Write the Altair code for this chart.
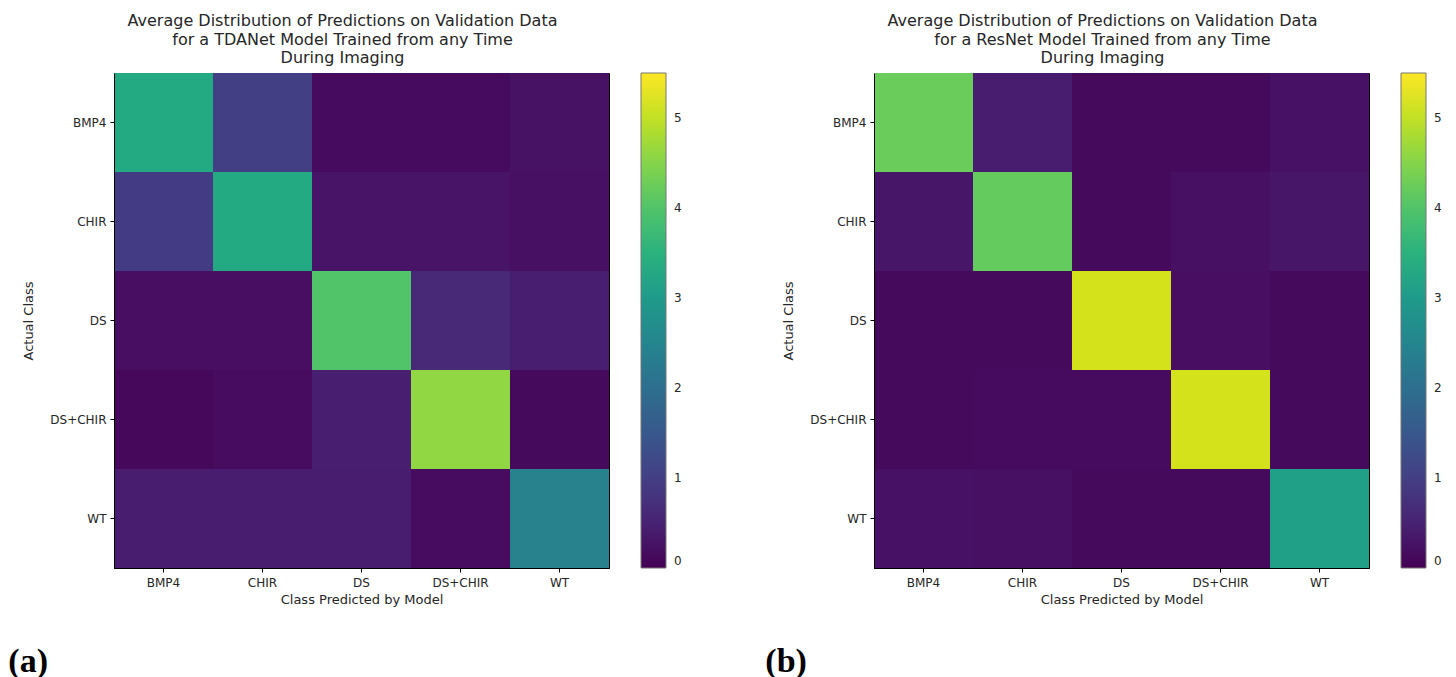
import altair as alt
import pandas as pd

classes = ["BMP4", "CHIR", "DS", "DS+CHIR", "WT"]

# rows = actual class, columns = predicted class
tdanet_values = [
    [3.35, 1.00, 0.14, 0.14, 0.24],
    [0.95, 3.35, 0.28, 0.28, 0.22],
    [0.18, 0.18, 4.00, 0.62, 0.45],
    [0.10, 0.16, 0.45, 4.60, 0.12],
    [0.42, 0.42, 0.40, 0.16, 2.40],
]
resnet_values = [
    [4.25, 0.40, 0.12, 0.12, 0.25],
    [0.30, 4.20, 0.12, 0.22, 0.30],
    [0.12, 0.12, 5.15, 0.18, 0.12],
    [0.12, 0.14, 0.14, 5.15, 0.12],
    [0.25, 0.22, 0.12, 0.12, 3.15],
]
color_ticks = [0, 1, 2, 3, 4, 5]
color_max = 5.5

title_a = ["Average Distribution of Predictions on Validation Data",
           "for a TDANet Model Trained from any Time",
           "During Imaging"]
title_b = ["Average Distribution of Predictions on Validation Data",
           "for a ResNet Model Trained from any Time",
           "During Imaging"]


def to_df(matrix):
    rows = []
    for i, actual in enumerate(classes):
        for j, pred in enumerate(classes):
            rows.append({"actual": actual, "predicted": pred, "value": matrix[i][j]})
    return pd.DataFrame(rows)


TEXT = "#262626"


def heatmap(matrix, title_lines):
    cscale = alt.Scale(scheme="viridis", domain=[0, color_max], nice=False, zero=True)
    return alt.Chart(to_df(matrix)).mark_rect().encode(
        x=alt.X("predicted:N", sort=classes, title="Class Predicted by Model",
                scale=alt.Scale(paddingInner=0, paddingOuter=0),
                axis=alt.Axis(labelAngle=0, labelPadding=5, titlePadding=5)),
        y=alt.Y("actual:N", sort=classes, title="Actual Class",
                scale=alt.Scale(paddingInner=0, paddingOuter=0),
                axis=alt.Axis(labelPadding=4, titlePadding=14)),
        color=alt.Color("value:Q", scale=cscale,
                        legend=alt.Legend(title=None, type="gradient", direction="vertical",
                                          gradientLength=495, gradientThickness=25,
                                          values=color_ticks, format="d", offset=32,
                                          gradientStrokeColor="#777", gradientStrokeWidth=1,
                                          labelFontSize=12, labelOffset=8, labelColor=TEXT,
                                          labelFont="DejaVu Sans")),
    ).properties(
        width=495, height=495,
        title=alt.TitleParams(text=title_lines, fontSize=16, fontWeight="normal",
                              font="DejaVu Sans", anchor="middle", frame="group",
                              dx=-19, offset=7, lineHeight=18.5, color=TEXT),
    )


def labelled(chart, label, dx):
    return alt.vconcat(chart).properties(
        title=alt.TitleParams(text=label, orient="bottom", anchor="start",
                              font="Liberation Serif", fontSize=34, fontWeight="bold",
                              color="black", dx=dx, offset=38)
    ).resolve_scale(color="independent")


panel_a = labelled(heatmap(tdanet_values, title_a), "(a)", -14)
panel_b = labelled(heatmap(resnet_values, title_b), "(b)", -17)

chart = alt.hconcat(panel_a, panel_b, spacing=82).resolve_scale(
    color="independent"
).properties(padding={"left": 0, "top": 4, "right": 0, "bottom": 0}).configure_axis(
    labelFont="DejaVu Sans", titleFont="DejaVu Sans",
    labelFontSize=12, titleFontSize=13, titleFontWeight="normal",
    labelColor=TEXT, titleColor=TEXT,
    domainColor="black", tickColor="black", tickSize=4, domainWidth=1,
).configure_view(stroke="black", strokeWidth=1)

chart.save("out.html", embed_options={"renderer": "svg", "actions": False})
